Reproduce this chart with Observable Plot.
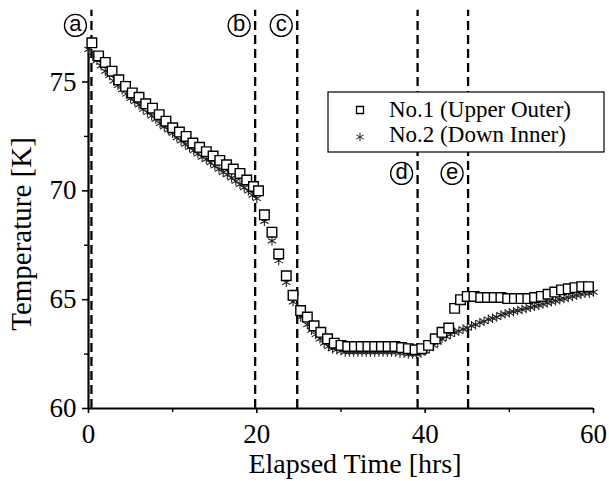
<!DOCTYPE html>
<html>
<head>
<meta charset="utf-8">
<script src="https://cdn.jsdelivr.net/npm/d3@7"></script>
<script src="https://cdn.jsdelivr.net/npm/@observablehq/plot@0.6"></script>
<style>
  body { margin: 0; background: #fff; }
  #chart { width: 609px; height: 481px; }
</style>
</head>
<body>
<div id="chart"></div>
<script>
// ---- data ----
const seriesNames = ["No.1 (Upper Outer)", "No.2 (Down Inner)"];

const sq_t = [0.4,1.2,2.0,2.8,3.6,4.4,5.2,6.0,6.8,7.6,8.4,9.2,10.0,10.8,11.6,12.4,13.2,14.0,14.8,15.6,16.4,17.2,18.0,18.8,19.6,20.2,
  20.9,21.8,22.6,23.5,24.3,25.2,26.0,26.8,27.6,28.4,29.2,30.0,30.8,31.6,32.4,33.2,34.0,34.8,35.6,36.4,37.2,38.0,38.8,39.6,40.4,41.2,42.0,42.8,43.5,44.2,
  45.0,45.8,46.6,47.4,48.2,49.0,49.8,50.6,51.4,52.2,53.0,53.8,54.6,55.4,56.2,57.0,57.8,58.6,59.4];
const sq_T = [76.8,76.2,75.9,75.5,75.1,74.8,74.5,74.3,74.0,73.8,73.5,73.2,72.9,72.7,72.5,72.2,72.0,71.8,71.6,71.4,71.2,71.0,70.8,70.5,70.2,70.0,
  68.9,68.1,67.1,66.1,65.2,64.5,64.2,63.8,63.5,63.2,63.0,62.9,62.85,62.85,62.85,62.85,62.85,62.85,62.85,62.85,62.8,62.75,62.7,62.75,62.9,63.2,63.5,63.7,64.6,65.0,
  65.15,65.15,65.1,65.1,65.1,65.1,65.05,65.05,65.05,65.05,65.1,65.15,65.25,65.35,65.45,65.5,65.55,65.6,65.6];

const st_t = [0,0.5,1,1.5,2,2.5,3,3.5,4,4.5,5,5.5,6,6.5,7,7.5,8,8.5,9,9.5,10,10.5,11,11.5,12,12.5,13,13.5,14,14.5,15,15.5,16,16.5,17,17.5,18,18.5,19,19.5,20,
  20.9,21.8,22.6,23.5,24.3,25.2,
  26,26.5,27,27.5,28,28.5,29,29.5,30,30.5,31,31.5,32,32.5,33,33.5,34,34.5,35,35.5,36,36.5,37,37.5,38,38.5,39,39.5,40,40.5,
  41,41.5,42,42.5,43,43.5,44,44.5,45,45.5,46,46.5,47,47.5,48,48.5,49,49.5,50,50.5,51,51.5,52,52.5,53,53.5,54,54.5,55,55.5,
  56,56.5,57,57.5,58,58.5,59,59.5,60];
const st_T = [76.5,76.2,76.0,75.75,75.5,75.3,75.05,74.85,74.65,74.45,74.25,74.1,73.95,73.75,73.6,73.45,73.3,73.1,72.95,72.8,
  72.65,72.45,72.3,72.15,72.0,71.85,71.7,71.55,71.45,71.3,71.15,71.0,70.85,70.75,70.6,70.45,70.3,70.15,70.0,69.8,69.65,
  68.6,67.7,66.8,65.8,64.9,64.2,
  63.85,63.6,63.4,63.2,63.0,62.85,62.75,62.7,62.65,62.6,62.6,62.6,62.6,62.6,62.6,62.6,62.6,62.6,62.6,62.6,62.6,62.6,62.55,62.55,62.5,62.5,62.5,62.55,62.65,62.75,
  62.9,63.05,63.2,63.3,63.4,63.5,63.55,63.65,63.7,63.8,63.85,63.95,64.0,64.1,64.15,64.2,64.3,64.35,64.4,64.45,64.5,64.55,64.6,64.65,64.7,64.75,64.8,64.85,64.9,64.95,
  65.0,65.05,65.1,65.15,65.2,65.25,65.3,65.3,65.35];

const eventNames = ["a","b","c","d","e"];
const eventTimes = [0.35, 19.8, 24.8, 39.1, 45.1];
const eventLabelT = [77.6, 77.6, 77.6, 70.8, 70.8];

const xTicks = [0, 20, 40, 60];
const xMinor = [10, 30, 50];
const yTicks = [60, 65, 70, 75];
const yMinor = [62.5, 67.5, 72.5];

const xTitle = "Elapsed Time [hrs]";
const yTitle = "Temperature [K]";

// ---- tables ----
const squares = sq_t.map((t, i) => ({t, T: sq_T[i]}));
const stars = st_t.map((t, i) => ({t, T: st_T[i]}));
const events = eventNames.map((n, i) => ({n, t: eventTimes[i], y: eventLabelT[i]}));

const serif = "'Liberation Serif', 'Times New Roman', serif";

const svg = Plot.plot({
  width: 609,
  height: 481,
  marginLeft: 88,
  marginRight: 16,
  marginTop: 38,
  marginBottom: 73,
  style: {fontFamily: serif, background: "#fff", color: "#000", overflow: "visible"},
  x: {domain: [0, 60], label: null},
  y: {domain: [60, 77], label: null},
  marks: [
    Plot.axisX({ticks: xTicks, tickSize: 5, tickPadding: 10, fontSize: 27, strokeWidth: 1.6, label: null}),
    Plot.axisX({ticks: xMinor, tickSize: 4, tickFormat: () => "", strokeWidth: 1.4, label: null}),
    Plot.axisY({ticks: yTicks, tickSize: 6, tickPadding: 6, fontSize: 27, strokeWidth: 1.6, label: null}),
    Plot.axisY({ticks: yMinor, tickSize: 4, tickFormat: () => "", strokeWidth: 1.4, label: null}),
    Plot.ruleY([60], {x1: 0, x2: 60, strokeWidth: 2.2}),
    Plot.ruleX([0], {y1: 60, y2: 77, strokeWidth: 2.2}),
    Plot.ruleX(events, {x: "t", y1: 60, y2: 78.3, strokeWidth: 2.3, strokeDasharray: "9,5"}),
    Plot.dot(stars, {x: "t", y: "T", symbol: "asterisk", r: 4.5, stroke: "#222", strokeWidth: 1.1}),
    Plot.dot(squares, {x: "t", y: "T", symbol: "square", r: 5.4, stroke: "#000", fill: "#fff", strokeWidth: 1.4}),
    Plot.dot(events, {x: "t", y: "y", dx: -16, r: 11, stroke: "#000", fill: "#fff", strokeWidth: 1.3}),
    Plot.text(events, {x: "t", y: "y", text: "n", dx: -16, dy: -1, fontSize: 22, fontFamily: "'Liberation Sans', Arial, sans-serif", fill: "#000"})
  ]
});

const s = d3.select(svg);
// axis titles
s.append("text").attr("x", 355).attr("y", 473).attr("text-anchor", "middle")
  .attr("font-family", serif).attr("font-size", 28).attr("fill", "#000").text(xTitle);
s.append("text").attr("transform", "translate(31,234) rotate(-90)").attr("text-anchor", "middle")
  .attr("font-family", serif).attr("font-size", 29).attr("fill", "#000").text(yTitle);

// legend
const lg = s.append("g");
lg.append("rect").attr("x", 328).attr("y", 92).attr("width", 276).attr("height", 60)
  .attr("fill", "#fff").attr("stroke", "#000").attr("stroke-width", 1.2);
lg.append("path").attr("transform", "translate(360,110)")
  .attr("d", d3.symbol(d3.symbolSquare, 49)()).attr("fill", "#fff").attr("stroke", "#000").attr("stroke-width", 1.3);
lg.append("path").attr("transform", "translate(360,137)")
  .attr("d", d3.symbol(d3.symbolAsterisk, 50)()).attr("fill", "none").attr("stroke", "#333").attr("stroke-width", 1.1);
seriesNames.forEach((n, i) => {
  lg.append("text").attr("x", 389).attr("y", 117 + i * 25).attr("text-anchor", "start")
    .attr("font-family", serif).attr("font-size", 23).attr("fill", "#000").text(n);
});

document.getElementById("chart").appendChild(svg);
</script>
</body>
</html>
